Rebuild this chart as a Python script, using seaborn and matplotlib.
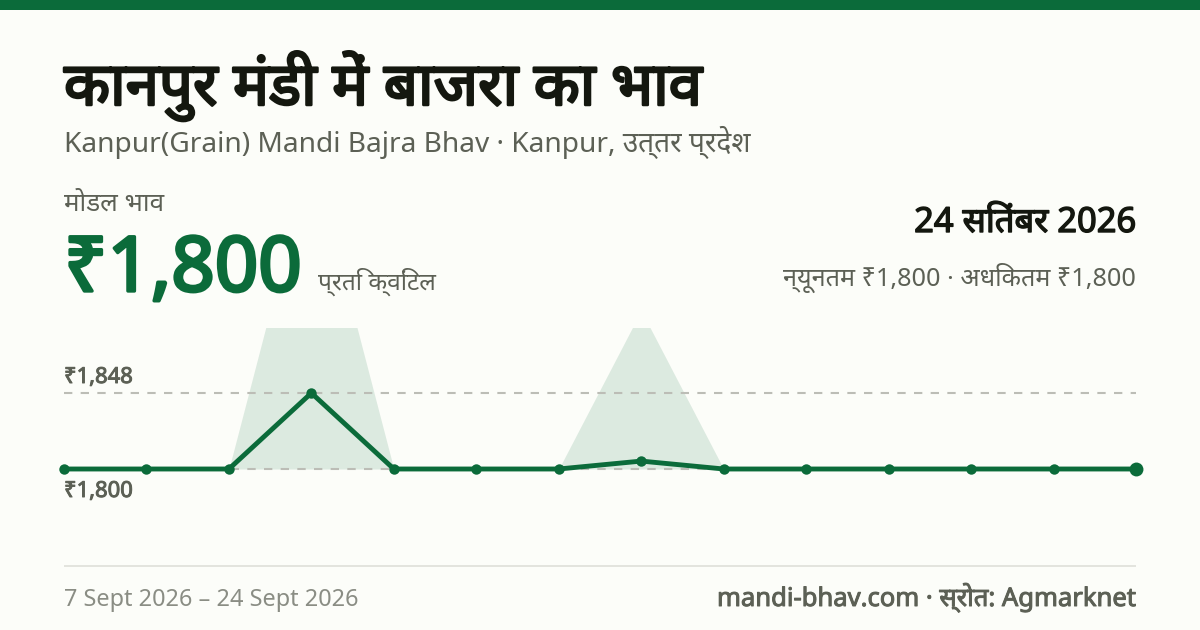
import matplotlib
matplotlib.use('Agg')
import matplotlib.pyplot as plt
import matplotlib.patheffects as pe
from matplotlib.patches import Rectangle
import pandas as pd
import seaborn as sns

## Values
day_index = list(range(14))
modal_price = [1800, 1800, 1800, 1848, 1800, 1800, 1800, 1805, 1800, 1800, 1800, 1800, 1800, 1800]
min_price = [1800] * 14
max_price = [1800, 1800, 1800, 2000, 1800, 1800, 1800, 1900, 1800, 1800, 1800, 1800, 1800, 1800]
ref_lines = [1848, 1800]
ref_labels = ['₹1,848', '₹1,800']

title = 'कानपुर मंडी में बाजरा का भाव'
subtitle = 'Kanpur(Grain) Mandi Bajra Bhav · Kanpur, उत्तर प्रदेश'
modal_label = 'मोडल भाव'
big_price = '₹1,800'
unit = 'प्रति क्विंटल'
date_label = '24 सितंबर 2026'
range_label = 'न्यूनतम ₹1,800 · अधिकतम ₹1,800'
date_range = '7 Sept 2026 – 24 Sept 2026'
source = 'mandi-bhav.com · स्रोत: Agmarknet'

GREEN = '#0b6b3a'
INK = '#14170f'
GREY = '#5c6055'
LIGHT = '#8a8d84'
BG = '#fcfdf9'
W, H = 1200, 630

sns.set_theme(style='white')
plt.rcParams['font.family'] = ['Noto Sans', 'DejaVu Sans']

df = pd.DataFrame({'day': day_index, 'modal': modal_price, 'low': min_price, 'high': max_price})

fig = plt.figure(figsize=(12, 6.3), dpi=100, facecolor=BG)


def put(x, y, s, px, color, bold=0, ha='left'):
    # x, y in picture pixels, y is the text baseline. Noto Sans has no bold file here, so
    # bold is a stroke round the glyphs
    t = fig.text(x / W, 1 - y / H, s, fontsize=px * 0.72, color=color, ha=ha, va='baseline')
    if bold:
        t.set_path_effects([pe.withStroke(linewidth=bold, foreground=color)])
    return t


fig.add_artist(Rectangle((0, 1 - 10 / H), 1, 10 / H, transform=fig.transFigure, color=GREEN, lw=0))

put(64, 105, title, 60, INK, bold=1.8)
put(64, 152, subtitle, 28.1, GREY)
put(64, 211, modal_label, 26, GREY)
put(64, 291, big_price, 76, GREEN, bold=2.4)
put(318, 290, unit, 24.5, GREY)
put(1136, 232, date_label, 34.5, INK, bold=1.0, ha='right')
put(1136, 286, range_label, 25.2, GREY, ha='right')
put(64, 606, date_range, 23.5, LIGHT)
put(1136, 606, source, 25.6, GREY, bold=0.7, ha='right')

## Chart area, 1800 sits at y=469 and 1848 at y=393
top_px, bottom_px = 328, 545
px_per_rs = (469 - 393) / 48
ax = fig.add_axes([64 / W, 1 - bottom_px / H, (1136 - 64) / W, (bottom_px - top_px) / H])
ax.set_facecolor('none')
ax.set_xlim(0, 13)
ax.set_ylim(1800 - (bottom_px - 469) / px_per_rs, 1800 + (469 - top_px) / px_per_rs)
ax.axis('off')

ax.fill_between(df['day'], df['low'], df['high'], color=GREEN, alpha=0.13, lw=0)
for v in ref_lines:
    ax.axhline(v, color='#bcbdb6', lw=1.5, dashes=(4, 4), zorder=1)

sns.lineplot(data=df, x='day', y='modal', ax=ax, color=GREEN, lw=3.5, marker='o',
             markersize=7.5, markeredgewidth=0, errorbar=None, clip_on=False, zorder=3)
ax.plot(df['day'].iloc[-1], df['modal'].iloc[-1], 'o', color=GREEN, ms=10, mew=0, clip_on=False, zorder=4)

put(64, 383, ref_labels[0], 22, GREY, bold=0.7)
put(64, 497, ref_labels[1], 22, GREY, bold=0.7)

## Footer rule
fig.add_artist(Rectangle((64 / W, 1 - 567 / H), (1136 - 64) / W, 2 / H, transform=fig.transFigure,
                         color='#e3e4de', lw=0))

fig.savefig('out.png', dpi=100, facecolor=BG)
